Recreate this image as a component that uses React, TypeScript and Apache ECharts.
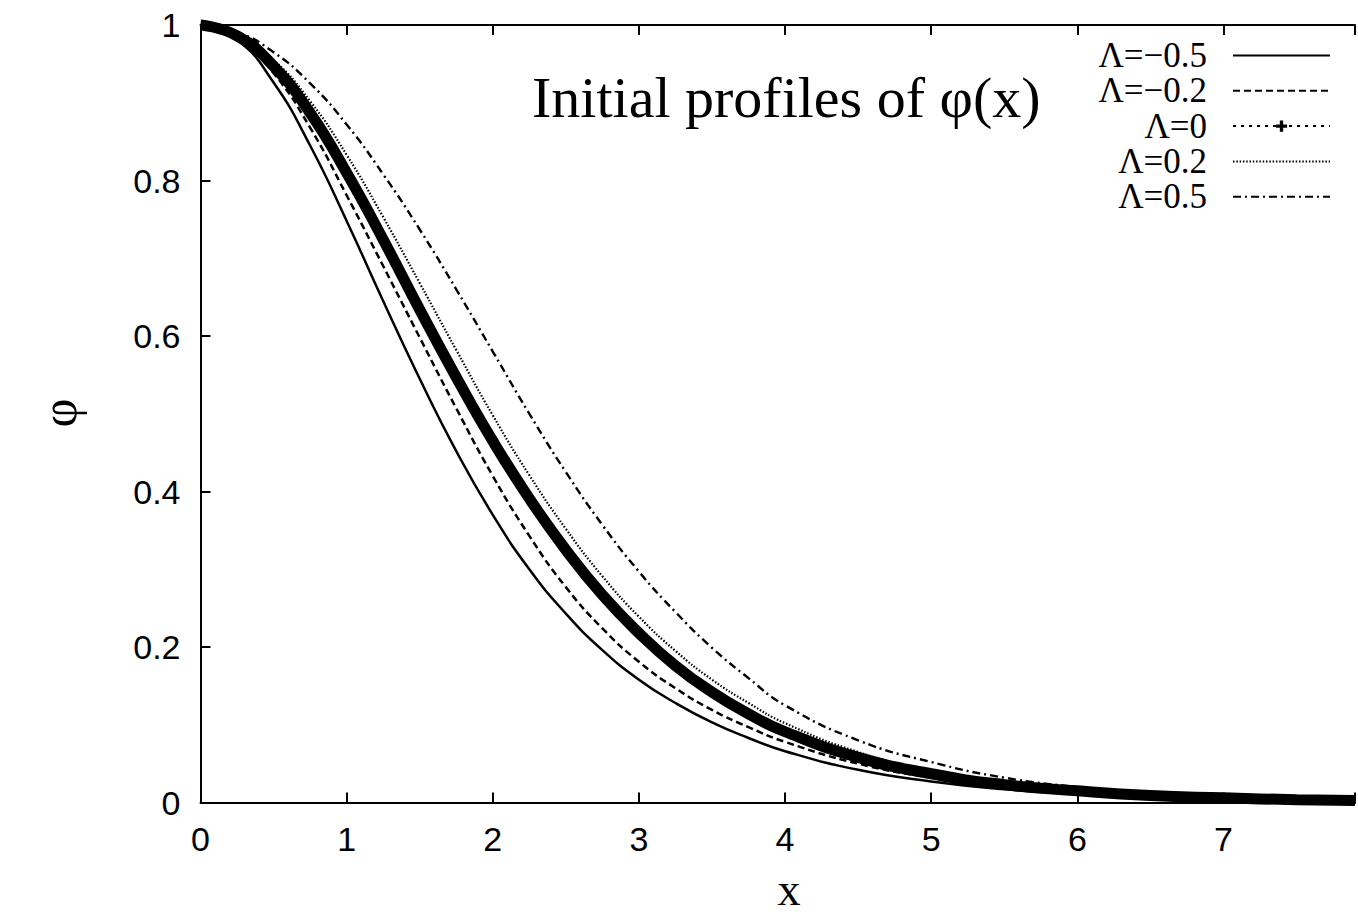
import React, { useEffect, useRef } from "react";
import * as echarts from "echarts";

const xs = [0, 0.25, 0.5, 0.75, 1, 1.25, 1.5, 1.75, 2, 2.25, 2.5, 2.75, 3, 3.25, 3.5, 3.75, 4, 4.5, 5, 5.5, 6, 6.5, 7, 7.5, 7.9];

const lamM05 = [1, 0.981, 0.926, 0.845, 0.748, 0.645, 0.545, 0.452, 0.37, 0.3, 0.243, 0.196, 0.158, 0.128, 0.103, 0.083, 0.066, 0.042, 0.027, 0.017, 0.011, 0.007, 0.0045, 0.003, 0.002];
const lamM02 = [1, 0.984, 0.938, 0.868, 0.781, 0.69, 0.598, 0.507, 0.42, 0.343, 0.277, 0.224, 0.181, 0.147, 0.119, 0.097, 0.078, 0.05, 0.032, 0.02, 0.013, 0.008, 0.005, 0.0033, 0.0024];
const lam0 = [1, 0.986, 0.947, 0.887, 0.81, 0.724, 0.634, 0.547, 0.465, 0.391, 0.325, 0.267, 0.218, 0.176, 0.142, 0.114, 0.091, 0.058, 0.037, 0.023, 0.015, 0.009, 0.006, 0.0036, 0.0025];
const lamP02 = [1, 0.988, 0.955, 0.902, 0.833, 0.753, 0.668, 0.582, 0.498, 0.421, 0.352, 0.291, 0.239, 0.195, 0.158, 0.128, 0.102, 0.065, 0.041, 0.026, 0.016, 0.01, 0.0065, 0.004, 0.003];
const lamP05 = [1, 0.991, 0.965, 0.925, 0.872, 0.808, 0.737, 0.66, 0.58, 0.5, 0.425, 0.357, 0.297, 0.245, 0.199, 0.16, 0.125, 0.08, 0.052, 0.032, 0.02, 0.0125, 0.008, 0.005, 0.0035];

const names = ["Λ=−0.5", "Λ=−0.2", "Λ=0", "Λ=0.2", "Λ=0.5"];
const xTicks = [0, 1, 2, 3, 4, 5, 6, 7];

const pair = (ys: number[]) => xs.map((x, i) => [x, ys[i]]);
const PLUS = "path://M3.5,0H6.5V3.5H10V6.5H6.5V10H3.5V6.5H0V3.5H3.5Z";
const hideSym = { opacity: 0 };

export default function App() {
  const ref = useRef<HTMLDivElement>(null);
  useEffect(() => {
    const chart = echarts.init(ref.current!, undefined, { renderer: "svg" });
    const tickLabel = { fontFamily: "Liberation Sans", fontSize: 34, color: "#000" };
    const axisLine = { lineStyle: { color: "#000", width: 2 } };
    chart.setOption({
      animation: false,
      backgroundColor: "#fff",
      title: {
        text: "Initial profiles of φ(x)",
        left: 527,
        top: 63,
        textStyle: { fontFamily: "Liberation Serif", fontSize: 58, fontWeight: "normal", color: "#000" },
      },
      legend: {
        orient: "vertical",
        align: "right",
        right: 22,
        top: 33,
        itemWidth: 97,
        itemHeight: 14,
        itemGap: 0.3,
        textStyle: { fontFamily: "Liberation Serif", fontSize: 35, color: "#000", padding: [0, 21, 0, 0], lineHeight: 35 },
        data: [
          { name: names[0], itemStyle: hideSym },
          { name: names[1], itemStyle: hideSym },
          { name: names[2], lineStyle: { width: 2, type: [3, 5] } },
          { name: names[3], itemStyle: hideSym },
          { name: names[4], itemStyle: hideSym },
        ],
      },
      grid: { left: 200.5, top: 25, right: 0, bottom: 113.5 },
      graphic: [
        {
          type: "text",
          x: 789,
          y: 889,
          style: { text: "x", font: "46px 'Liberation Serif'", fill: "#000", align: "center", verticalAlign: "middle" },
        },
        {
          type: "text",
          x: 59,
          y: 413,
          rotation: Math.PI / 2,
          style: { text: "φ", font: "50px 'Liberation Serif'", fill: "#000", align: "center", verticalAlign: "middle" },
        },
      ],
      xAxis: [
        {
          type: "value",
          min: 0,
          max: 7.9,
          interval: 1,
          axisLine,
          axisTick: { inside: true, length: 10, lineStyle: { color: "#000", width: 2 } },
          axisLabel: { ...tickLabel, margin: 19, formatter: (v: number) => (xTicks.includes(v) ? String(v) : "") },
          splitLine: { show: false },
        },
        {
          type: "value",
          position: "top",
          min: 0,
          max: 7.9,
          interval: 1,
          axisLine,
          axisTick: { inside: true, length: 10, lineStyle: { color: "#000", width: 2 } },
          axisLabel: { show: false },
          splitLine: { show: false },
        },
      ],
      yAxis: {
        type: "value",
        min: 0,
        max: 1,
        interval: 0.2,
        axisLine: { show: true, ...axisLine },
        axisTick: { show: true, inside: true, length: 10, lineStyle: { color: "#000", width: 2 } },
        axisLabel: { ...tickLabel, margin: 20 },
        splitLine: { show: false },
      },
      series: [
        {
          name: names[0],
          type: "line",
          smooth: true,
          symbol: "none",
          data: pair(lamM05),
          lineStyle: { color: "#000", width: 2.5, type: "solid" },
          itemStyle: { color: "#000" },
        },
        {
          name: names[1],
          type: "line",
          smooth: true,
          symbol: "none",
          data: pair(lamM02),
          lineStyle: { color: "#000", width: 2.5, type: [7, 4] },
          itemStyle: { color: "#000" },
        },
        {
          name: names[2],
          type: "line",
          smooth: true,
          symbol: PLUS,
          symbolSize: 12,
          showSymbol: false,
          clip: false,
          data: pair(lam0),
          lineStyle: { color: "#000", width: 11, type: "solid" },
          itemStyle: { color: "#000" },
          z: 3,
        },
        {
          name: names[3],
          type: "line",
          smooth: true,
          symbol: "none",
          data: pair(lamP02),
          lineStyle: { color: "#000", width: 2.2, type: [1.5, 1.8] },
          itemStyle: { color: "#000" },
        },
        {
          name: names[4],
          type: "line",
          smooth: true,
          symbol: "none",
          data: pair(lamP05),
          lineStyle: { color: "#000", width: 2.4, type: [8, 4, 2, 4] },
          itemStyle: { color: "#000" },
        },
      ],
    });
    return () => chart.dispose();
  }, []);
  return <div ref={ref} style={{ position: "fixed", left: 0, top: 0, width: 1358, height: 916 }} />;
}
